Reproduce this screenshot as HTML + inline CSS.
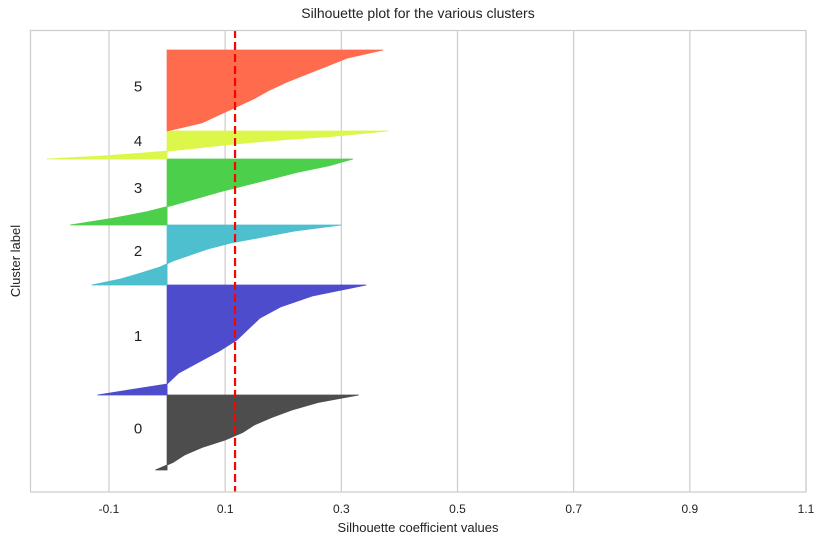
<!DOCTYPE html>
<html><head><meta charset="utf-8"><style>
html,body{margin:0;padding:0;background:#fff;}
svg{display:block;font-family:"Liberation Sans",sans-serif;}
</style></head><body>
<svg id="chart" width="824" height="545">
<rect width="824" height="545" fill="#fff"/>
<text x="418" y="18" text-anchor="middle" font-size="14" fill="#222">Silhouette plot for the various clusters</text>
<g id="grid"></g>
<g id="marks"></g>
<rect x="30.5" y="30.5" width="775.5" height="461.5" fill="none" stroke="#cccccc" stroke-width="1.2"/>
<g id="ticks"></g>
<text x="418" y="532" text-anchor="middle" font-size="13" fill="#222">Silhouette coefficient values</text>
<text transform="translate(20,261) rotate(-90)" text-anchor="middle" font-size="13" fill="#222">Cluster label</text>
</svg>
<script>
const clusterLabels = ["0","1","2","3","4","5"];
const clusterSizes = [75,110,60,66,28,81];
const clusterColors = ["#4d4d4d","#4d4ccc","#4dbfcf","#4cd04c","#dcf74a","#ff6b4d"];
const c0 = [0.33,0.26,0.215,0.18,0.15,0.13,0.10,0.06,0.03,0.01,-0.02];
const c1 = [0.343,0.25,0.195,0.16,0.14,0.12,0.09,0.055,0.02,0.0,-0.12];
const c2 = [0.30,0.22,0.165,0.11,0.07,0.04,0.01,-0.012,-0.045,-0.08,-0.13];
const c3 = [0.32,0.28,0.225,0.18,0.135,0.09,0.05,0.01,-0.035,-0.095,-0.167];
const c4 = [0.381,0.33,0.28,0.21,0.15,0.10,0.055,0.01,-0.05,-0.115,-0.207];
const c5 = [0.372,0.31,0.275,0.24,0.205,0.175,0.15,0.12,0.09,0.06,0.0];
const clusterValues = [c0,c1,c2,c3,c4,c5];
const avgScore = 0.117;
const xTicks = [-0.1,0.1,0.3,0.5,0.7,0.9,1.1];
const yStart = 22;
const xMin = -0.236, xMax = 1.1, yMax = 462;
const L=30, R=806, T=30, B=492;
function xs(v){return L+(v-xMin)/(xMax-xMin)*(R-L);}
function ys(v){return B-v/yMax*(B-T);}
const NS="http://www.w3.org/2000/svg";
const grid=document.getElementById('grid'), marks=document.getElementById('marks'), ticks=document.getElementById('ticks');
xTicks.forEach(t=>{
  const l=document.createElementNS(NS,'line');
  l.setAttribute('x1',xs(t));l.setAttribute('x2',xs(t));l.setAttribute('y1',T);l.setAttribute('y2',B);
  l.setAttribute('stroke','#cccccc');l.setAttribute('stroke-width','1.2');
  
  
  grid.appendChild(l);
  const tx=document.createElementNS(NS,'text');
  tx.setAttribute('x',xs(t));tx.setAttribute('y',513);tx.setAttribute('text-anchor','middle');
  tx.setAttribute('font-size','12');tx.setAttribute('fill','#222');
  tx.textContent=t.toFixed(1);
  
  
  ticks.appendChild(tx);
});
let yl=yStart;
clusterValues.forEach((vals,i)=>{
  const size=clusterSizes[i], yu=yl+size, n=vals.length;
  let d='M'+xs(0)+','+ys(yu);
  vals.forEach((v,k)=>{ const y=yu-size*k/(n-1); d+=' L'+xs(v)+','+ys(y); });
  d+=' L'+xs(0)+','+ys(yl)+' Z';
  const p=document.createElementNS(NS,'path');
  p.setAttribute('d',d);p.setAttribute('fill',clusterColors[i]);
  p.setAttribute('stroke',clusterColors[i]);p.setAttribute('stroke-width','0.8');
  
  
  marks.appendChild(p);
  const tx=document.createElementNS(NS,'text');
  tx.setAttribute('x',xs(-0.05));tx.setAttribute('y',ys(yl+size/2)+1);tx.setAttribute('text-anchor','middle');
  tx.setAttribute('font-size','15');tx.setAttribute('fill','#222');
  tx.textContent=clusterLabels[i];
  
  
  marks.appendChild(tx);
  yl=yu;
});
const av=document.createElementNS(NS,'line');
av.setAttribute('x1',xs(avgScore));av.setAttribute('x2',xs(avgScore));av.setAttribute('y1',T);av.setAttribute('y2',B);
av.setAttribute('stroke','#ff0000');av.setAttribute('stroke-width','2.2');av.setAttribute('stroke-dasharray','8,4');


marks.appendChild(av);
</script>
</body></html>
